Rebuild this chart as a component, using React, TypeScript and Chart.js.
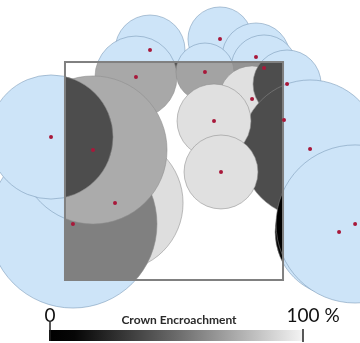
import { useEffect, useRef } from "react";
import { Chart, registerables } from "chart.js";

Chart.register(...registerables);

// Crowns listed in drawing order (plot is a 20 m x 20 m square, coordinates in metres)
const treeIds = ["T3", "T5", "T7", "T8", "T4", "T6", "T15", "T16", "T2", "T1", "T10", "T9", "T12", "T13", "T11", "T14", "T17", "T18"];
const stemX = [7.8, 14.22, 17.52, 18.26, 6.51, 12.84, 4.59, 0.73, 2.57, -1.28, 17.16, 20.37, 20.09, 22.48, 13.67, 14.31, 25.14, 26.61];
const stemY = [21.1, 22.11, 20.46, 19.45, 18.62, 19.08, 7.06, 5.14, 11.93, 13.12, 16.61, 17.98, 14.68, 12.02, 14.59, 9.91, 4.4, 5.14];
const crownRadius = [3.21, 2.94, 3.12, 3.03, 3.76, 2.66, 6.24, 7.71, 6.79, 5.69, 3.03, 3.12, 2.57, 6.33, 3.39, 3.39, 5.87, 7.25];
const encroachment = [33, 55, 58, 58, 66, 64, 87, 50, 67, 30, 88, 30, 30, 30, 88, 88, 2, 0];

// Plot extent and view window (metres)
const plotExtent = [0, 20];
const viewX = [-5.96, 27.06];
const viewY = [-5.78, 25.69];

// Colour bar labels
const barTitle = "Crown Encroachment";
const barMinLabel = "0";
const barMaxLabel = "100";
const barUnit = " %";

const grayOf = (p: number) => {
  const v = Math.max(0, Math.min(255, Math.round((255 * p) / 100)));
  return `rgb(${v},${v},${v})`;
};

const makePoints = () => stemX.map((x, i) => ({ x, y: stemY[i], id: treeIds[i] }));

const plotRect = (chart: any) => {
  const { x, y } = chart.scales;
  const l = x.getPixelForValue(plotExtent[0]);
  const r = x.getPixelForValue(plotExtent[1]);
  const t = y.getPixelForValue(plotExtent[1]);
  const b = y.getPixelForValue(plotExtent[0]);
  return { l, r, t, b };
};

const crownPx = (ctx: any) => {
  const i = ctx.dataIndex;
  const rr = typeof i === "number" ? crownRadius[i] : 0;
  const s = ctx.chart.scales && ctx.chart.scales.x;
  let k = s ? Math.abs(s.getPixelForValue(1) - s.getPixelForValue(0)) : NaN;
  if (!Number.isFinite(k) || k <= 0) k = ctx.chart.width / (viewX[1] - viewX[0]);
  const v = rr * k;
  return Number.isFinite(v) ? v : 0;
};

const regionPlugin = {
  id: "regionClip",
  beforeDatasetDraw(chart: any, args: any) {
    const ds = chart.data.datasets[args.index];
    if (!ds.region) return;
    const { ctx } = chart;
    const { l, r, t, b } = plotRect(chart);
    ctx.save();
    ctx.beginPath();
    if (ds.region === "outside") {
      ctx.rect(0, 0, chart.width, chart.height);
      ctx.rect(l, t, r - l, b - t);
      ctx.clip("evenodd");
    } else {
      ctx.rect(l, t, r - l, b - t);
      ctx.clip();
    }
  },
  afterDatasetDraw(chart: any, args: any) {
    const ds = chart.data.datasets[args.index];
    if (!ds.region) return;
    const { ctx } = chart;
    ctx.restore();
    if (ds.region === "inside") {
      const { l, r, t, b } = plotRect(chart);
      ctx.save();
      ctx.strokeStyle = "#808080";
      ctx.lineWidth = 2;
      ctx.strokeRect(l, t, r - l, b - t);
      ctx.restore();
    }
  },
  afterDraw(chart: any) {
    const { ctx } = chart;
    const x0 = 49;
    const x1 = 303;
    const y0 = 330;
    const h = 11;
    ctx.save();
    const g = ctx.createLinearGradient(x0, 0, x1, 0);
    g.addColorStop(0, "#000000");
    g.addColorStop(0.1, "#060606");
    g.addColorStop(0.5, "#6a6a6a");
    g.addColorStop(1, "#f4f4f4");
    ctx.fillStyle = g;
    ctx.fillRect(x0, y0, x1 - x0, h);
    ctx.strokeStyle = "#222";
    ctx.lineWidth = 1.5;
    ctx.beginPath();
    ctx.moveTo(x0 + 1, 322);
    ctx.lineTo(x0 + 1, y0 + h);
    ctx.moveTo(x1, y0 - 1);
    ctx.lineTo(x1, y0 + h + 1);
    ctx.stroke();
    ctx.fillStyle = "#111";
    ctx.textBaseline = "alphabetic";
    ctx.font = '19px Lato, "Noto Sans", sans-serif';
    ctx.textAlign = "center";
    ctx.fillText(barMinLabel, x0 + 1, 322);
    const w100 = ctx.measureText(barMaxLabel).width;
    ctx.textAlign = "left";
    ctx.fillText(barMaxLabel + barUnit, x1 - w100 / 2, 322);
    ctx.font = 'bold 12px Lato, "Noto Sans", sans-serif';
    ctx.textAlign = "center";
    ctx.fillStyle = "#2a2a2a";
    ctx.fillText(barTitle, 179, 324);
    ctx.restore();
  },
};

export default function App() {
  const ref = useRef<HTMLCanvasElement>(null);
  useEffect(() => {
    document.body.style.margin = "0";
    const canvas = ref.current!;
    const chart = new Chart(canvas, {
      type: "bubble",
      data: {
        datasets: [
          {
            label: "stems",
            data: makePoints(),
            radius: 2,
            backgroundColor: "#a8183a",
            borderWidth: 0,
          } as any,
          {
            label: "crowns inside plot",
            region: "inside",
            data: makePoints(),
            radius: crownPx,
            backgroundColor: encroachment.map((p) => grayOf(p)),
            borderColor: "rgba(140,140,140,0.55)",
            borderWidth: 1,
          } as any,
          {
            label: "crowns outside plot",
            region: "outside",
            data: makePoints(),
            radius: crownPx,
            backgroundColor: "rgb(205,228,248)",
            borderColor: "rgba(125,155,185,0.65)",
            borderWidth: 0.9,
          } as any,
        ],
      },
      options: {
        responsive: false,
        devicePixelRatio: 1,
        animation: false,
        events: [],
        layout: { padding: 0, autoPadding: false },
        plugins: { legend: { display: false }, tooltip: { enabled: false } },
        scales: {
          x: { type: "linear", display: false, min: viewX[0], max: viewX[1] },
          y: { type: "linear", display: false, min: viewY[0], max: viewY[1] },
        },
      },
      plugins: [regionPlugin],
    });
    return () => chart.destroy();
  }, []);
  return (
    <div style={{ width: 360, height: 343, position: "relative" }}>
      <canvas ref={ref} width={360} height={343} style={{ display: "block" }} />
    </div>
  );
}
